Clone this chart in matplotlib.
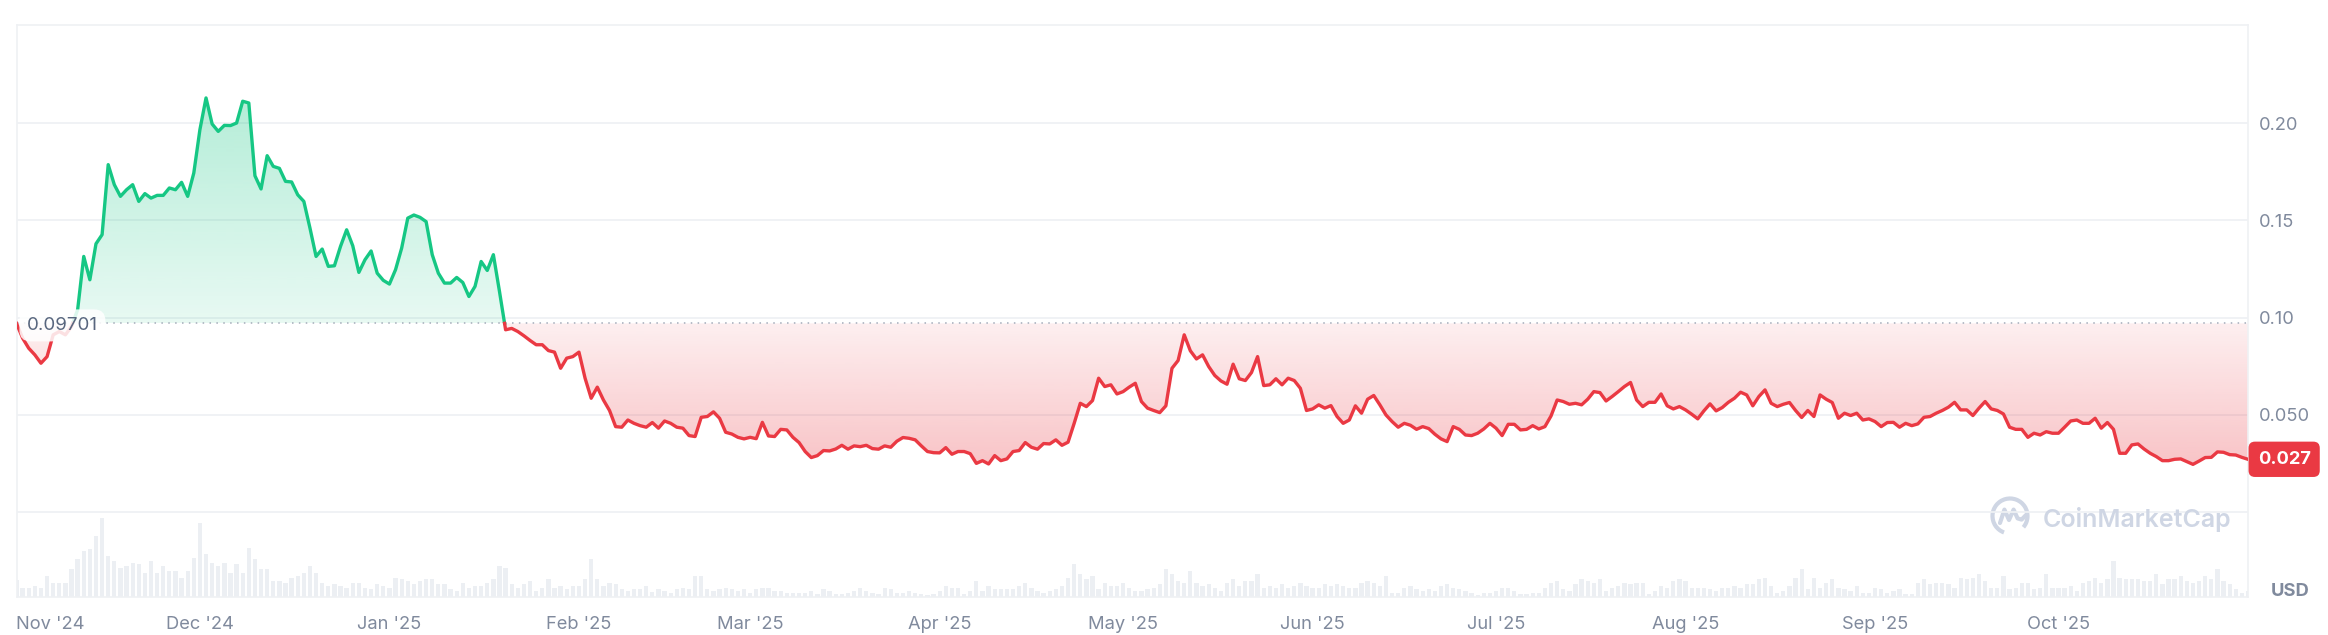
import matplotlib
matplotlib.use('Agg')
import matplotlib.pyplot as plt
import matplotlib.dates as mdates
import matplotlib.transforms as mtransforms
from matplotlib.path import Path
from matplotlib.patches import PathPatch, Arc
import matplotlib.colors as mcolors
import numpy as np
import pandas as pd

plt.rcParams['font.family'] = ['Inter', 'DejaVu Sans']

# daily price (USD), 1 Nov 2024 .. 1 Nov 2025
dates = pd.date_range('2024-11-01', periods=366, freq='D')
price = [
    0.0970, 0.0894, 0.0842, 0.0808, 0.0765, 0.0799, 0.0911, 0.0928, 0.0911, 0.0954,
    0.1040, 0.1314, 0.1194, 0.1379, 0.1426, 0.1786, 0.1683, 0.1623, 0.1657, 0.1683,
    0.1597, 0.1637, 0.1614, 0.1628, 0.1628, 0.1666, 0.1657, 0.1695, 0.1623, 0.1743,
    0.1966, 0.2129, 0.1995, 0.1957, 0.1988, 0.1987, 0.2000, 0.2112, 0.2103, 0.1729,
    0.1661, 0.1832, 0.1777, 0.1767, 0.1700, 0.1697, 0.1631, 0.1597, 0.1460, 0.1314,
    0.1352, 0.1263, 0.1266, 0.1366, 0.1451, 0.1369, 0.1232, 0.1297, 0.1342, 0.1228,
    0.1191, 0.1172, 0.1246, 0.1357, 0.1511, 0.1527, 0.1515, 0.1493, 0.1323, 0.1228,
    0.1177, 0.1177, 0.1206, 0.1180, 0.1108, 0.1160, 0.1288, 0.1242, 0.1323, 0.1134,
    0.0937, 0.0944, 0.0928, 0.0906, 0.0882, 0.0860, 0.0860, 0.0830, 0.0822, 0.0739,
    0.0791, 0.0799, 0.0822, 0.0688, 0.0585, 0.0642, 0.0576, 0.0522, 0.0439, 0.0436,
    0.0473, 0.0456, 0.0444, 0.0436, 0.0460, 0.0431, 0.0468, 0.0456, 0.0436, 0.0431,
    0.0393, 0.0388, 0.0487, 0.0491, 0.0515, 0.0482, 0.0410, 0.0401, 0.0384, 0.0376,
    0.0384, 0.0377, 0.0461, 0.0391, 0.0388, 0.0425, 0.0422, 0.0384, 0.0357, 0.0311,
    0.0280, 0.0290, 0.0316, 0.0314, 0.0324, 0.0343, 0.0323, 0.0340, 0.0336, 0.0343,
    0.0326, 0.0323, 0.0340, 0.0333, 0.0364, 0.0383, 0.0379, 0.0371, 0.0340, 0.0311,
    0.0305, 0.0304, 0.0331, 0.0297, 0.0311, 0.0311, 0.0300, 0.0250, 0.0264, 0.0247,
    0.0290, 0.0264, 0.0273, 0.0311, 0.0316, 0.0357, 0.0333, 0.0323, 0.0352, 0.0350,
    0.0371, 0.0343, 0.0359, 0.0456, 0.0559, 0.0542, 0.0573, 0.0688, 0.0645, 0.0654,
    0.0607, 0.0619, 0.0642, 0.0662, 0.0568, 0.0534, 0.0522, 0.0511, 0.0546, 0.0739,
    0.0779, 0.0911, 0.0829, 0.0787, 0.0808, 0.0748, 0.0702, 0.0674, 0.0657, 0.0760,
    0.0685, 0.0676, 0.0717, 0.0799, 0.0650, 0.0654, 0.0685, 0.0654, 0.0688, 0.0676,
    0.0636, 0.0522, 0.0530, 0.0551, 0.0534, 0.0547, 0.0491, 0.0456, 0.0473, 0.0546,
    0.0508, 0.0580, 0.0599, 0.0551, 0.0499, 0.0465, 0.0436, 0.0456, 0.0446, 0.0425,
    0.0439, 0.0429, 0.0400, 0.0376, 0.0362, 0.0439, 0.0425, 0.0396, 0.0393, 0.0405,
    0.0427, 0.0456, 0.0431, 0.0393, 0.0451, 0.0451, 0.0422, 0.0425, 0.0444, 0.0427,
    0.0439, 0.0494, 0.0576, 0.0568, 0.0554, 0.0559, 0.0551, 0.0580, 0.0619, 0.0614,
    0.0571, 0.0594, 0.0619, 0.0645, 0.0666, 0.0576, 0.0542, 0.0564, 0.0564, 0.0607,
    0.0546, 0.0530, 0.0542, 0.0525, 0.0503, 0.0479, 0.0520, 0.0556, 0.0520, 0.0537,
    0.0564, 0.0585, 0.0616, 0.0602, 0.0546, 0.0594, 0.0628, 0.0559, 0.0542, 0.0554,
    0.0563, 0.0522, 0.0486, 0.0522, 0.0491, 0.0602, 0.0580, 0.0563, 0.0482, 0.0508,
    0.0496, 0.0508, 0.0473, 0.0479, 0.0465, 0.0439, 0.0460, 0.0461, 0.0436, 0.0456,
    0.0444, 0.0453, 0.0487, 0.0491, 0.0508, 0.0522, 0.0539, 0.0564, 0.0525, 0.0525,
    0.0496, 0.0534, 0.0568, 0.0530, 0.0522, 0.0504, 0.0436, 0.0425, 0.0425, 0.0384,
    0.0405, 0.0396, 0.0413, 0.0405, 0.0405, 0.0436, 0.0468, 0.0473, 0.0456, 0.0456,
    0.0482, 0.0431, 0.0460, 0.0425, 0.0302, 0.0302, 0.0345, 0.0350, 0.0324, 0.0302,
    0.0285, 0.0264, 0.0264, 0.0271, 0.0273, 0.0259, 0.0245, 0.0262, 0.0280, 0.0281,
    0.0309, 0.0307, 0.0295, 0.0293, 0.0281, 0.0271,
]

# daily volume, relative units (only the bar shape is shown on the chart)
volume = [
    50, 28, 28, 33, 28, 64, 43, 43, 43, 83, 113, 138, 143, 183, 238, 123, 108, 88, 93, 103,
    100, 73, 108, 73, 93, 78, 78, 58, 78, 118, 223, 128, 103, 93, 103, 73, 98, 73, 148, 113,
    83, 83, 48, 48, 43, 58, 63, 73, 93, 73, 43, 33, 38,
    33, 28, 43, 43, 28, 23, 38, 33, 28, 58, 53, 48, 38, 48, 53, 53, 38, 38, 23, 18,
    43, 28, 33, 33, 43, 53, 93, 88, 38, 28, 38, 48, 18, 28, 53, 28, 33, 23, 33, 33,
    53, 113, 53, 33, 43, 38, 23, 18, 23, 23, 33, 15,
    23, 18, 13, 23, 28, 23, 63, 63, 23, 18, 23, 28, 23, 18, 23, 13, 23, 28, 28, 18,
    18, 13, 13, 13, 13, 18, 8, 23, 18, 8, 8, 13, 18, 28, 18, 13, 8, 28, 23, 13,
    13, 18, 13, 8, 5, 8, 18, 33, 28, 28, 8, 18, 48,
    18, 33, 23, 23, 23, 23, 33, 43, 28, 18, 13, 18, 23, 33, 58, 98, 68, 53, 63, 23,
    43, 33, 33, 43, 28, 18, 18, 23, 28, 38, 83, 68, 48, 43, 78, 43, 33, 38, 28, 18,
    43, 53, 33, 48, 48, 68, 28, 33, 28, 38, 28, 33,
    43, 33, 28, 28, 38, 33, 38, 33, 28, 28, 43, 48, 43, 33, 63, 13, 13, 28, 33, 23,
    18, 23, 18, 33, 38, 28, 23, 18, 13, 5, 13, 13, 18, 28, 28, 18, 8, 8, 13, 13,
    28, 43, 48, 23, 18, 38, 53, 48, 43, 53, 18, 28,
    33, 43, 38, 43, 43, 8, 18, 33, 28, 48, 53, 48, 28, 28, 28, 23, 18, 28, 28, 33,
    28, 38, 38, 53, 58, 33, 13, 18, 33, 58, 83, 23, 58, 28, 43, 53, 28, 23, 18, 33,
    13, 13, 28, 23, 13, 18, 23, 8, 8, 43, 53,
    38, 43, 43, 38, 28, 58, 53, 58, 68, 48, 28, 28, 63, 23, 28, 43, 43, 23, 28, 68,
    28, 28, 28, 33, 18, 43, 48, 58, 43, 53, 108, 58, 53, 53, 53, 48, 48, 68, 38, 53,
    53, 63, 48, 43, 48, 63, 53, 83, 48, 38, 23, 13, 18,
]

base_price = 0.09701
last_label = '0.027'
ytick_values = [0.0, 0.05, 0.10, 0.15, 0.20]
ytick_labels = ['', '0.050', '0.10', '0.15', '0.20']
month_starts = pd.date_range('2024-11-01', '2025-10-01', freq='MS')

GREEN = '#16c784'
RED = '#ea3943'
GRID = '#eff1f4'
TXT = '#808a9d'

W, H = 2328, 635
fig = plt.figure(figsize=(W / 100, H / 100), dpi=100)
ax = fig.add_axes([16.5 / W, (H - 597) / H, (2248 - 16.5) / W, (597 - 25) / H])
axv = ax.twinx()
ax.set_zorder(axv.get_zorder() + 1)
ax.patch.set_visible(False)

x = mdates.date2num(dates)
y = np.array(price)

# volume bars at the bottom
axv.bar(x, volume, width=0.7, color='#eceff3', linewidth=0)
axv.set_ylim(0, 1716)
axv.set_xlim(x[0], x[-1])
axv.axis('off')

# add the points where the line crosses the baseline
xs, ys = [x[0]], [y[0]]
for i in range(1, len(x)):
    y0, y1 = y[i - 1], y[i]
    if (y0 - base_price) * (y1 - base_price) < 0:
        t = (base_price - y0) / (y1 - y0)
        xs.append(x[i - 1] + t * (x[i] - x[i - 1]))
        ys.append(base_price)
    xs.append(x[i])
    ys.append(y1)
xs = np.array(xs)
ys = np.array(ys)


def gradient_fill(ax, lo, hi, where, color, a_base, a_far, y_far):
    coll = ax.fill_between(xs, lo, hi, where=where, facecolor='none', edgecolor='none')
    clip = PathPatch(Path.make_compound_path(*coll.get_paths()), transform=ax.transData,
                     facecolor='none', edgecolor='none')
    ax.add_patch(clip)
    n = 256
    img = np.zeros((n, 1, 4))
    img[:, 0, :3] = mcolors.to_rgb(color)
    alphas = np.linspace(a_base, a_far, n)
    if y_far < base_price:
        alphas = alphas[::-1]
    img[:, 0, 3] = alphas
    im = ax.imshow(img, extent=[xs[0], xs[-1], min(base_price, y_far), max(base_price, y_far)],
                   origin='lower', aspect='auto', interpolation='bilinear', zorder=1)
    im.set_clip_path(clip)


gradient_fill(ax, base_price, ys, ys >= base_price, GREEN, 0.10, 0.32, ys.max())
gradient_fill(ax, ys, base_price, ys <= base_price, RED, 0.08, 0.30, ys.min())

ax.plot(xs, np.where(ys >= base_price, ys, np.nan), color=GREEN, lw=2.4, zorder=4)
ax.plot(xs, np.where(ys <= base_price, ys, np.nan), color=RED, lw=2.4, zorder=4)

ax.axhline(base_price, color='#a3abb9', lw=1.1, ls=(0, (1, 3.5)), zorder=3)

ax.set_xlim(x[0], x[-1])
ax.set_ylim(-0.0437, 0.2504)

ax.set_yticks(ytick_values, ytick_labels)
ax.yaxis.grid(True, color=GRID, lw=1.3)
ax.set_axisbelow(True)
ax.tick_params(axis='y', length=0, pad=8, labelsize=13.2, labelcolor=TXT,
               left=False, labelleft=False, right=True, labelright=True)

ax.set_xticks(mdates.date2num(month_starts), [d.strftime("%b '%y") for d in month_starts])
ax.tick_params(axis='x', length=0, pad=14, labelsize=13.2, labelcolor=TXT)
ax.get_xticklabels()[0].set_ha('left')

for s in ax.spines.values():
    s.set_color(GRID)
    s.set_linewidth(1.2)

blend = mtransforms.blended_transform_factory(ax.transAxes, ax.transData)
ax.annotate('0.09701', xy=(0, base_price), xycoords=blend, xytext=(7.5, -1.5),
            textcoords='offset points', ha='left', va='center', fontsize=13.5, color='#58667e',
            bbox=dict(boxstyle='round,pad=0.4,rounding_size=0.6', fc='white', ec='none', alpha=0.85),
            zorder=6)
ax.annotate(last_label, xy=(1, price[-1]), xycoords=blend, xytext=(7, 0),
            textcoords='offset points', ha='left', va='center', fontsize=13.2, fontweight='bold',
            color='white', annotation_clip=False, zorder=7,
            bbox=dict(boxstyle='round,pad=0.5,rounding_size=0.35', fc=RED, ec='none'))

fig.text(2290 / W, (H - 591) / H, 'USD', ha='center', va='center', fontsize=13.2,
         fontweight='bold', color=TXT)

# watermark
WM = '#cfd6e4'
fig.text(2043 / W, (H - 519) / H, 'CoinMarketCap', ha='left', va='center', fontsize=18,
         fontweight='semibold', color=WM)
lax = fig.add_axes([(2010 - 21) / W, (H - 516 - 21) / H, 42 / W, 42 / H])
lax.set_xlim(-1.05, 1.05)
lax.set_ylim(-1.05, 1.05)
lax.axis('off')
lax.add_patch(Arc((0, 0), 1.75, 1.75, theta1=-40, theta2=250, color=WM, lw=3))
lax.plot([-0.5, -0.28, -0.05, 0.18, 0.38, 0.58, 0.8], [-0.35, 0.32, -0.2, 0.32, -0.12, -0.18, 0.05],
         color=WM, lw=3, solid_capstyle='round', solid_joinstyle='round')

fig.savefig('out.png', dpi=100)
